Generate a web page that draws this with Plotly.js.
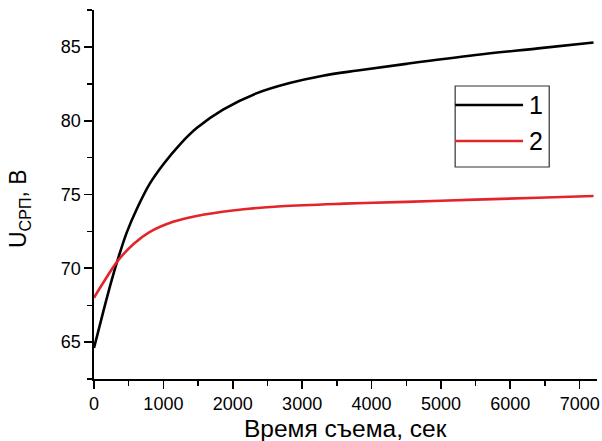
<!DOCTYPE html>
<html>
<head>
<meta charset="utf-8">
<script src="https://cdn.plot.ly/plotly-3.0.1.min.js"></script>
<style>html,body{margin:0;padding:0;background:#fff}#chart{width:602px;height:441px}</style>
</head>
<body>
<div id="chart"></div>
<script>
// Series 1 (black)
const t1 = [0, 130, 255, 350, 470, 615, 800, 1000, 1240, 1480, 1860, 2340, 2820, 3300, 3800, 4500, 5500, 6400, 7200];
const u1 = [64.6, 67.0, 69.2, 70.7, 72.4, 74.0, 75.7, 77.05, 78.4, 79.5, 80.75, 81.85, 82.55, 83.05, 83.4, 83.85, 84.45, 84.9, 85.3];
// Series 2 (red)
const t2 = [0, 130, 350, 570, 800, 1140, 1480, 2000, 2700, 3600, 4500, 5500, 6400, 7200];
const u2 = [68.0, 69.0, 70.55, 71.65, 72.45, 73.15, 73.55, 73.92, 74.2, 74.38, 74.5, 74.65, 74.78, 74.9];
const seriesNames = ["1", "2"];
const xTickVals = [0, 1000, 2000, 3000, 4000, 5000, 6000, 7000];
const yTickVals = [65, 70, 75, 80, 85];
const xTitle = "Время съема, сек";
const yTitle = "U<sub>СРП</sub>, В";

const FONT = "Liberation Sans, Arial, Helvetica, sans-serif";
const colors = ["#000000", "#e3242b"];

const traces = [
  {x: t1, y: u1, name: seriesNames[0], mode: "lines", line: {color: colors[0], width: 2.6, shape: "spline", smoothing: 1}},
  {x: t2, y: u2, name: seriesNames[1], mode: "lines", line: {color: colors[1], width: 2.6, shape: "spline", smoothing: 1}}
];

const legX0 = 0.718, legX1 = 0.905, legY0 = 0.5745, legY1 = 0.794;
const lineX1 = 0.853;
const rowY = [0.7425, 0.645];

const shapes = [
  {type: "rect", xref: "paper", yref: "paper", x0: legX0, x1: legX1, y0: legY0, y1: legY1,
   line: {color: "#333333", width: 1.2}, fillcolor: "rgba(0,0,0,0)"}
];
const annotations = [];
seriesNames.forEach((n, i) => {
  shapes.push({type: "line", xref: "paper", yref: "paper", x0: legX0, x1: lineX1, y0: rowY[i], y1: rowY[i],
    line: {color: colors[i], width: 2.6}});
  annotations.push({xref: "paper", yref: "paper", x: lineX1 + 0.008, y: rowY[i], xanchor: "left", yanchor: "middle",
    text: n, showarrow: false, font: {family: FONT, size: 25, color: "#000"}});
});
// y axis title placed as an annotation (reference title sits slightly below axis centre)
annotations.push({xref: "paper", yref: "paper", x: 0, y: 0.4607, xshift: -75, xanchor: "center", yanchor: "middle",
  textangle: -90, text: yTitle, showarrow: false, font: {family: FONT, size: 23, color: "#000"}});
// x axis title as annotation for exact vertical placement
annotations.push({xref: "paper", yref: "paper", x: 0.5, y: 0, yshift: -49, xanchor: "center", yanchor: "middle",
  text: xTitle, showarrow: false, font: {family: FONT, size: 24.5, color: "#000"}});

const axisCommon = {
  showline: true, linecolor: "#000", linewidth: 1.6,
  ticks: "outside", ticklen: 8, tickwidth: 1.6, tickcolor: "#000",
  showgrid: false, zeroline: false, mirror: false,
  tickfont: {family: FONT, size: 18, color: "#000"}
};

const layout = {
  width: 602, height: 441,
  margin: {l: 94, r: 5, t: 10, b: 62},
  paper_bgcolor: "#fff", plot_bgcolor: "#fff",
  showlegend: false,
  font: {family: FONT, color: "#000"},
  xaxis: Object.assign({}, axisCommon, {
    range: [0, 7250], tickvals: xTickVals, ticktext: xTickVals.map(String),
    minor: {dtick: 500, tick0: 0, ticks: "outside", ticklen: 5, tickwidth: 1.4, tickcolor: "#000", showgrid: false}
  }),
  yaxis: Object.assign({}, axisCommon, {
    range: [62.5, 87.5], tickvals: yTickVals, ticktext: yTickVals.map(String),
    minor: {dtick: 2.5, tick0: 0, ticks: "outside", ticklen: 5, tickwidth: 1.4, tickcolor: "#000", showgrid: false}
  }),
  shapes: shapes,
  annotations: annotations
};

Plotly.newPlot("chart", traces, layout, {displayModeBar: false, staticPlot: true});
</script>
</body>
</html>
